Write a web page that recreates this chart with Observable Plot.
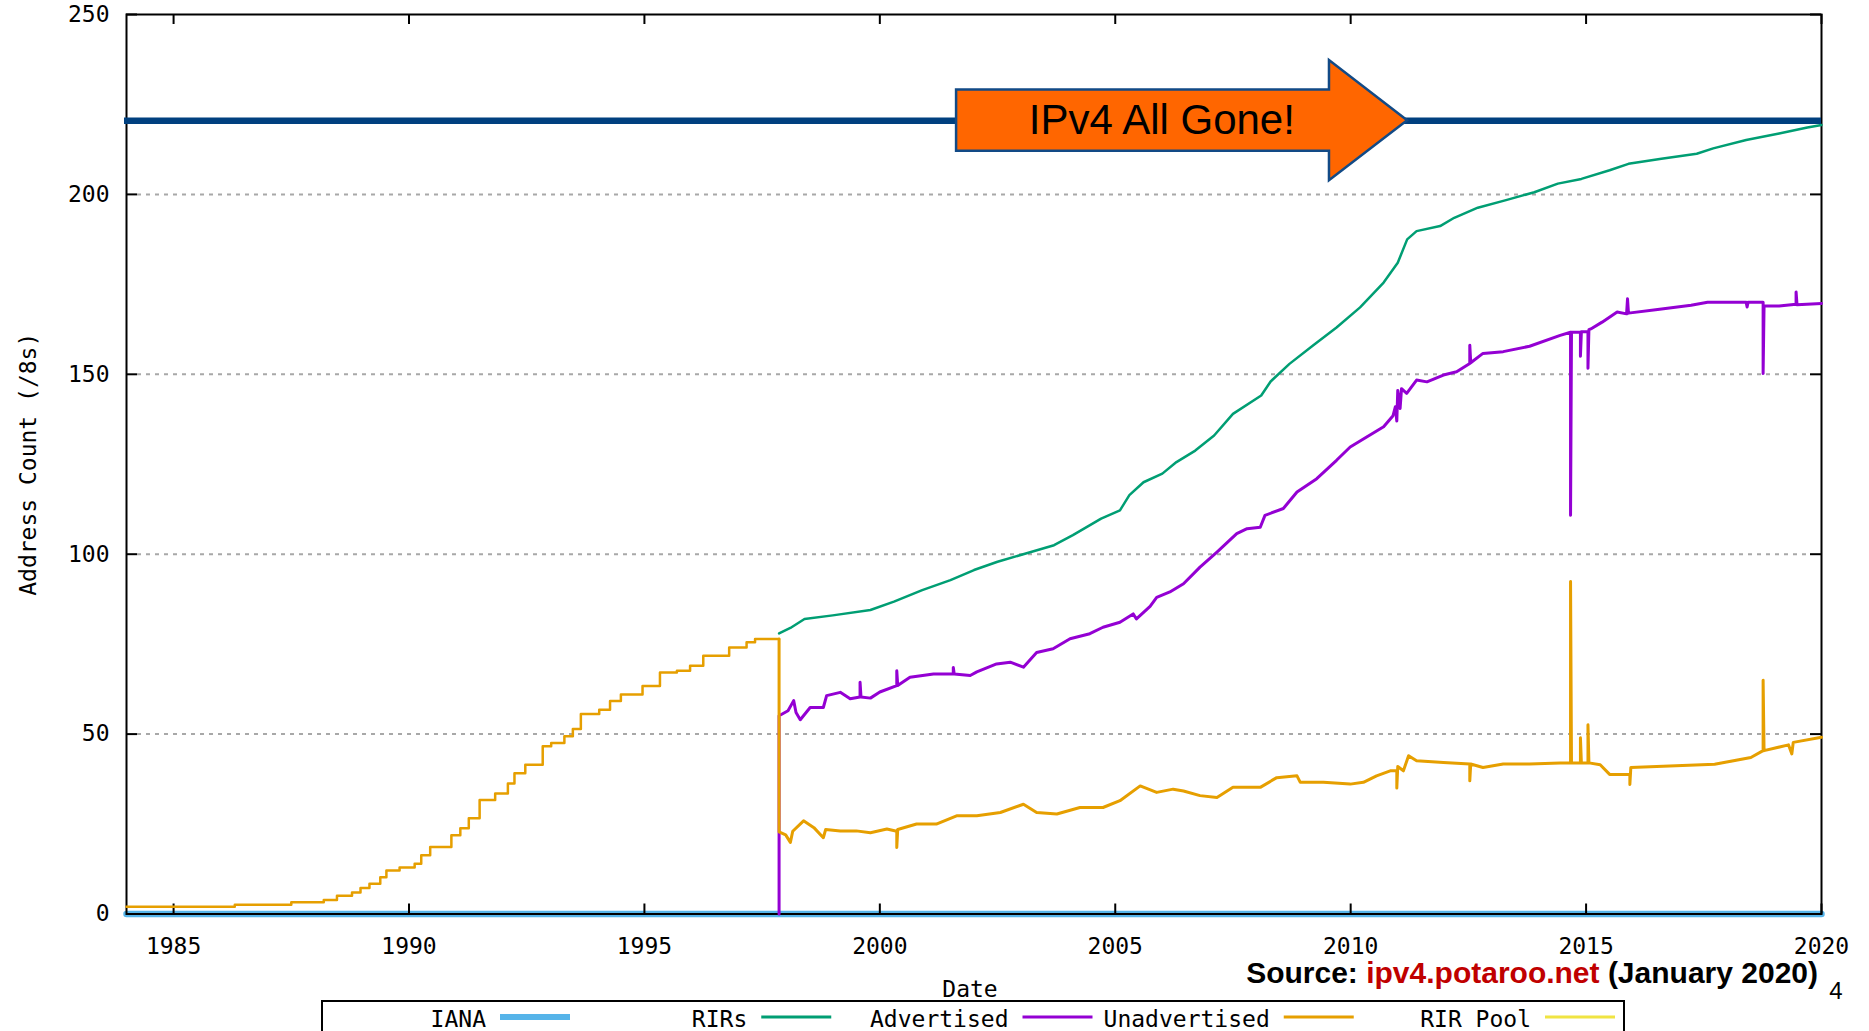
<!DOCTYPE html>
<html><head><meta charset="utf-8">
<script src="https://cdn.jsdelivr.net/npm/d3@7"></script>
<script src="https://cdn.jsdelivr.net/npm/@observablehq/plot@0.6"></script>
<style>
html,body{margin:0;padding:0;background:#fff;}
#chart{width:1869px;height:1031px;overflow:hidden;}
</style>
</head><body><div id="chart"></div>
<script>
// ---------- data ----------
const xTicks = [1985, 1990, 1995, 2000, 2005, 2010, 2015, 2020];
const yTicks = [0, 50, 100, 150, 200, 250];
const gridValues = [50, 100, 150, 200];
const seriesNames = ["IANA", "RIRs", "Advertised", "Unadvertised", "RIR Pool"];
const seriesColors = ["#56b4e9", "#009e73", "#9400d3", "#e69f00", "#f0e442"];

const iana = [[1984, 0], [2020, 0]];

const rirs = [
  [1997.86, 78.0], [1998.1, 79.5], [1998.4, 82.0], [1999.0, 83.0], [1999.8, 84.5],
  [2000.3, 86.8], [2000.9, 90.0], [2001.5, 92.8], [2002.0, 95.6], [2002.5, 97.9],
  [2003.1, 100.2], [2003.7, 102.5], [2004.1, 105.3], [2004.7, 109.9], [2005.1, 112.2],
  [2005.3, 116.4], [2005.6, 120.0], [2006.0, 122.4], [2006.3, 125.6], [2006.7, 128.8],
  [2007.1, 133.0], [2007.5, 139.0], [2008.1, 144.1], [2008.3, 148.0], [2008.7, 152.9],
  [2009.2, 158.0], [2009.7, 163.0], [2010.2, 168.6], [2010.7, 175.5], [2011.0, 181.0],
  [2011.2, 187.5], [2011.4, 189.8], [2011.9, 191.2], [2012.2, 193.5], [2012.7, 196.3],
  [2013.3, 198.4], [2013.9, 200.6], [2014.4, 203.0], [2014.9, 204.3], [2015.5, 206.7],
  [2015.9, 208.5], [2016.6, 209.9], [2017.35, 211.3], [2017.7, 212.8], [2018.4, 215.1],
  [2019.1, 216.9], [2019.7, 218.6], [2020.0, 219.3]
];

const advertised = [
  [1997.86, 0], [1997.86, 55.1], [1998.05, 56.5], [1998.17, 59.3], [1998.22, 56.0],
  [1998.31, 54.0], [1998.52, 57.4], [1998.8, 57.4], [1998.87, 60.7], [1999.16, 61.6],
  [1999.37, 59.8], [1999.58, 60.3], [1999.58, 64.4], [1999.6, 60.3], [1999.8, 60.0],
  [2000.0, 61.7], [2000.36, 63.5], [2000.36, 67.6], [2000.38, 63.5], [2000.64, 65.8],
  [2001.14, 66.7], [2001.56, 66.7], [2001.56, 68.5], [2001.58, 66.7], [2001.92, 66.3],
  [2002.06, 67.3], [2002.48, 69.5], [2002.77, 70.0], [2003.05, 68.6], [2003.33, 72.7],
  [2003.68, 73.7], [2004.04, 76.5], [2004.46, 77.9], [2004.74, 79.7], [2005.1, 81.1],
  [2005.38, 83.4], [2005.45, 82.0], [2005.74, 85.5], [2005.88, 88.0], [2006.16, 89.5],
  [2006.45, 91.8], [2006.8, 96.4], [2007.16, 100.6], [2007.58, 105.7], [2007.8, 107.1],
  [2008.08, 107.5], [2008.18, 110.8], [2008.57, 112.7], [2008.86, 117.3], [2009.28, 121.0],
  [2009.7, 126.1], [2009.99, 129.8], [2010.34, 132.6], [2010.7, 135.4], [2010.9, 138.5],
  [2010.95, 141.0], [2010.98, 137.0], [2011.0, 145.5], [2011.05, 140.5], [2011.08, 146.0],
  [2011.19, 144.7], [2011.4, 148.4], [2011.62, 147.9], [2011.97, 149.8], [2012.25, 150.7],
  [2012.53, 153.0], [2012.53, 158.1], [2012.55, 153.2], [2012.81, 155.8], [2013.24, 156.3],
  [2013.8, 157.8], [2014.45, 160.8], [2014.67, 161.7], [2014.67, 110.8], [2014.69, 161.7],
  [2014.88, 161.7], [2014.88, 155.0], [2014.9, 161.8], [2015.04, 161.8], [2015.04, 151.7],
  [2015.06, 162.4], [2015.1, 162.6], [2015.34, 164.5], [2015.66, 167.3], [2015.86, 166.8],
  [2015.88, 171.0], [2015.9, 167.0], [2016.52, 168.0], [2017.23, 169.2], [2017.58, 170.0],
  [2018.4, 170.0], [2018.42, 168.7], [2018.44, 170.0], [2018.76, 170.0], [2018.76, 150.2],
  [2018.78, 169.0], [2019.1, 169.0], [2019.46, 169.5], [2019.46, 172.9], [2019.48, 169.3],
  [2020.0, 169.7]
];

// Unadvertised (before 1998: all allocated space, drawn as steps)
const unadvertisedEarly = [
  [1984.0, 2.0], [1986.3, 2.6], [1987.5, 3.3], [1988.19, 3.9], [1988.47, 5.1],
  [1988.79, 6.0], [1988.97, 7.2], [1989.16, 8.4], [1989.39, 10.2], [1989.52, 12.1],
  [1989.8, 12.9], [1990.12, 14.0], [1990.26, 16.3], [1990.45, 18.6], [1990.9, 21.9],
  [1991.09, 23.8], [1991.27, 26.6], [1991.5, 31.7], [1991.83, 33.5], [1992.1, 36.3],
  [1992.24, 39.1], [1992.47, 41.5], [1992.84, 46.6], [1993.02, 47.5], [1993.3, 49.4],
  [1993.48, 51.4], [1993.65, 55.6], [1994.04, 56.8], [1994.27, 59.2], [1994.5, 61.0],
  [1994.96, 63.4], [1995.33, 67.1], [1995.69, 67.6], [1995.97, 69.0], [1996.25, 71.8],
  [1996.8, 74.1], [1997.17, 75.5], [1997.35, 76.4], [1997.86, 76.4]
];

const unadvertisedLate = [
  [1997.86, 76.4], [1997.86, 22.8], [1998.0, 22.0], [1998.1, 19.9], [1998.15, 23.0],
  [1998.38, 25.9], [1998.6, 24.0], [1998.8, 21.2], [1998.85, 23.5], [1999.16, 23.1],
  [1999.5, 23.1], [1999.8, 22.6], [2000.15, 23.6], [2000.36, 23.0], [2000.36, 18.5],
  [2000.38, 23.5], [2000.78, 25.0], [2001.2, 25.0], [2001.63, 27.3], [2002.06, 27.3],
  [2002.56, 28.2], [2003.05, 30.5], [2003.33, 28.2], [2003.76, 27.8], [2004.25, 29.6],
  [2004.74, 29.6], [2005.1, 31.5], [2005.53, 35.6], [2005.88, 33.8], [2006.23, 34.7],
  [2006.45, 34.2], [2006.8, 32.9], [2007.16, 32.4], [2007.5, 35.2], [2008.08, 35.2],
  [2008.43, 37.9], [2008.86, 38.4], [2008.93, 36.6], [2009.42, 36.6], [2009.99, 36.1],
  [2010.27, 36.6], [2010.55, 38.4], [2010.84, 39.8], [2010.98, 39.8], [2010.98, 35.0],
  [2011.0, 41.0], [2011.12, 39.8], [2011.23, 44.0], [2011.4, 42.6], [2011.97, 42.1],
  [2012.53, 41.7], [2012.53, 37.0], [2012.55, 41.7], [2012.81, 40.7], [2013.24, 41.7],
  [2013.8, 41.7], [2014.45, 42.0], [2014.67, 42.0], [2014.67, 92.4], [2014.69, 42.0],
  [2014.88, 42.0], [2014.88, 49.0], [2014.9, 42.0], [2015.04, 42.0], [2015.04, 52.6],
  [2015.06, 42.0], [2015.3, 41.5], [2015.5, 38.8], [2015.93, 38.8], [2015.93, 36.0],
  [2015.95, 40.7], [2016.5, 41.0], [2017.73, 41.6], [2018.5, 43.5], [2018.76, 45.4],
  [2018.76, 65.0], [2018.78, 45.4], [2019.3, 47.0], [2019.37, 44.5], [2019.4, 47.7],
  [2020.0, 49.1]
];

const exhaustionLevel = 220.5;
const annotationText = "IPv4 All Gone!";
const arrowStart = 2001.63, arrowNeck = 2009.55, arrowTip = 2011.21, arrowTextX = 2006.0;
const arrowBody = 8.5, arrowHead = 16.7;

// ---------- layout ----------
const W = 1869, H = 1031;
const mT = 14, mR = 48, mB = 117.5, mL = 126;
const innerW = W - mL - mR, innerH = H - mT - mB;
const MONO = "'DejaVu Sans Mono', monospace";
const SANS = "'Liberation Sans', Arial, sans-serif";

const plot = Plot.plot({
  width: W, height: H,
  marginTop: mT, marginRight: mR, marginBottom: mB, marginLeft: mL,
  x: {domain: [1984, 2020]},
  y: {domain: [0, 250]},
  style: {fontFamily: MONO, fontSize: "23px", background: "white", color: "black", overflow: "visible"},
  marks: [
    Plot.ruleY(gridValues, {y: d => d, stroke: "#a8a8a8", strokeWidth: 2, strokeDasharray: "4,5", insetLeft: 11, insetRight: 11}),
    Plot.line(iana, {x: d => d[0], y: d => d[1], stroke: seriesColors[0], strokeWidth: 6.5}),
    Plot.frame({stroke: "black", strokeWidth: 2}),
    Plot.tickY(yTicks, {y: d => d, stroke: "black", strokeWidth: 2, insetRight: innerW - 11}),
    Plot.tickY(yTicks, {y: d => d, stroke: "black", strokeWidth: 2, insetLeft: innerW - 11}),
    Plot.tickX(xTicks, {x: d => d, stroke: "black", strokeWidth: 2, insetTop: innerH - 10}),
    Plot.tickX(xTicks, {x: d => d, stroke: "black", strokeWidth: 2, insetBottom: innerH - 10}),
    Plot.axisX(xTicks, {anchor: "bottom", tickSize: 0, tickPadding: 24, tickFormat: d => String(d), label: null, fontSize: 23}),
    Plot.axisY(yTicks, {anchor: "left", tickSize: 0, tickPadding: 17, tickFormat: d => String(d), label: null, fontSize: 23}),
    Plot.line(rirs, {x: d => d[0], y: d => d[1], stroke: seriesColors[1], strokeWidth: 2.5}),
    Plot.line(advertised, {x: d => d[0], y: d => d[1], stroke: seriesColors[2], strokeWidth: 3}),
    Plot.line(unadvertisedLate, {x: d => d[0], y: d => d[1], stroke: seriesColors[3], strokeWidth: 3}),
    Plot.line(unadvertisedEarly, {x: d => d[0], y: d => d[1], stroke: seriesColors[3], strokeWidth: 2.5, curve: "step-after"}),
    Plot.ruleY([exhaustionLevel], {y: d => d, stroke: "#00407f", strokeWidth: 6.5, insetLeft: -2}),
    Plot.text(["Address Count (/8s)"], {frameAnchor: "left", dx: -98, rotate: -90, text: d => d, fontSize: 23, textAnchor: "middle", lineAnchor: "middle"}),
    Plot.text(["Date"], {frameAnchor: "bottom", dx: -4, dy: 76, text: d => d, fontSize: 23, lineAnchor: "middle"})
  ]
});

document.getElementById("chart").appendChild(plot);

// ---------- annotations ----------
const svg = d3.select(plot);
const xs = plot.scale("x"), ys = plot.scale("y");
const X = v => xs.apply(v), Y = v => ys.apply(v);

const a0 = X(arrowStart), a1 = X(arrowNeck), a2 = X(arrowTip), ay = Y(exhaustionLevel);
svg.append("path")
  .attr("d", `M${a0},${Y(exhaustionLevel + arrowBody)}H${a1}V${Y(exhaustionLevel + arrowHead)}L${a2},${ay}L${a1},${Y(exhaustionLevel - arrowHead)}V${Y(exhaustionLevel - arrowBody)}H${a0}Z`)
  .attr("fill", "#ff6600").attr("stroke", "#124a86").attr("stroke-width", 2.5).attr("stroke-linejoin", "miter");
svg.append("text")
  .attr("x", X(arrowTextX)).attr("y", ay).attr("dy", "0.32em")
  .attr("text-anchor", "middle").attr("font-family", SANS).attr("font-size", 42).attr("fill", "black")
  .text(annotationText);

// source + page number
const src = svg.append("text").attr("x", 1818).attr("y", 983).attr("text-anchor", "end")
  .attr("font-family", SANS).attr("font-weight", "bold").attr("font-size", 30).attr("fill", "black");
src.append("tspan").text("Source: ");
src.append("tspan").attr("fill", "#c00000").text("ipv4.potaroo.net");
src.append("tspan").text(" (January 2020)");
svg.append("text").attr("x", 1836).attr("y", 999).attr("text-anchor", "middle")
  .attr("font-family", SANS).attr("font-size", 24).attr("fill", "black").text("4");

// legend
const lg = svg.append("g");
lg.append("rect").attr("x", 322).attr("y", 1001).attr("width", 1302).attr("height", 44)
  .attr("fill", "white").attr("stroke", "black").attr("stroke-width", 2);
seriesNames.forEach((name, i) => {
  const sx = 500 + i * 261.25;
  lg.append("line").attr("x1", sx).attr("x2", sx + 70).attr("y1", 1017).attr("y2", 1017)
    .attr("stroke", seriesColors[i]).attr("stroke-width", i === 0 ? 6 : 3);
  lg.append("text").attr("x", sx - 14).attr("y", 1019).attr("dy", "0.36em").attr("text-anchor", "end")
    .attr("font-family", MONO).attr("font-size", 23).attr("fill", "black").text(name);
});
</script>
</body></html>
